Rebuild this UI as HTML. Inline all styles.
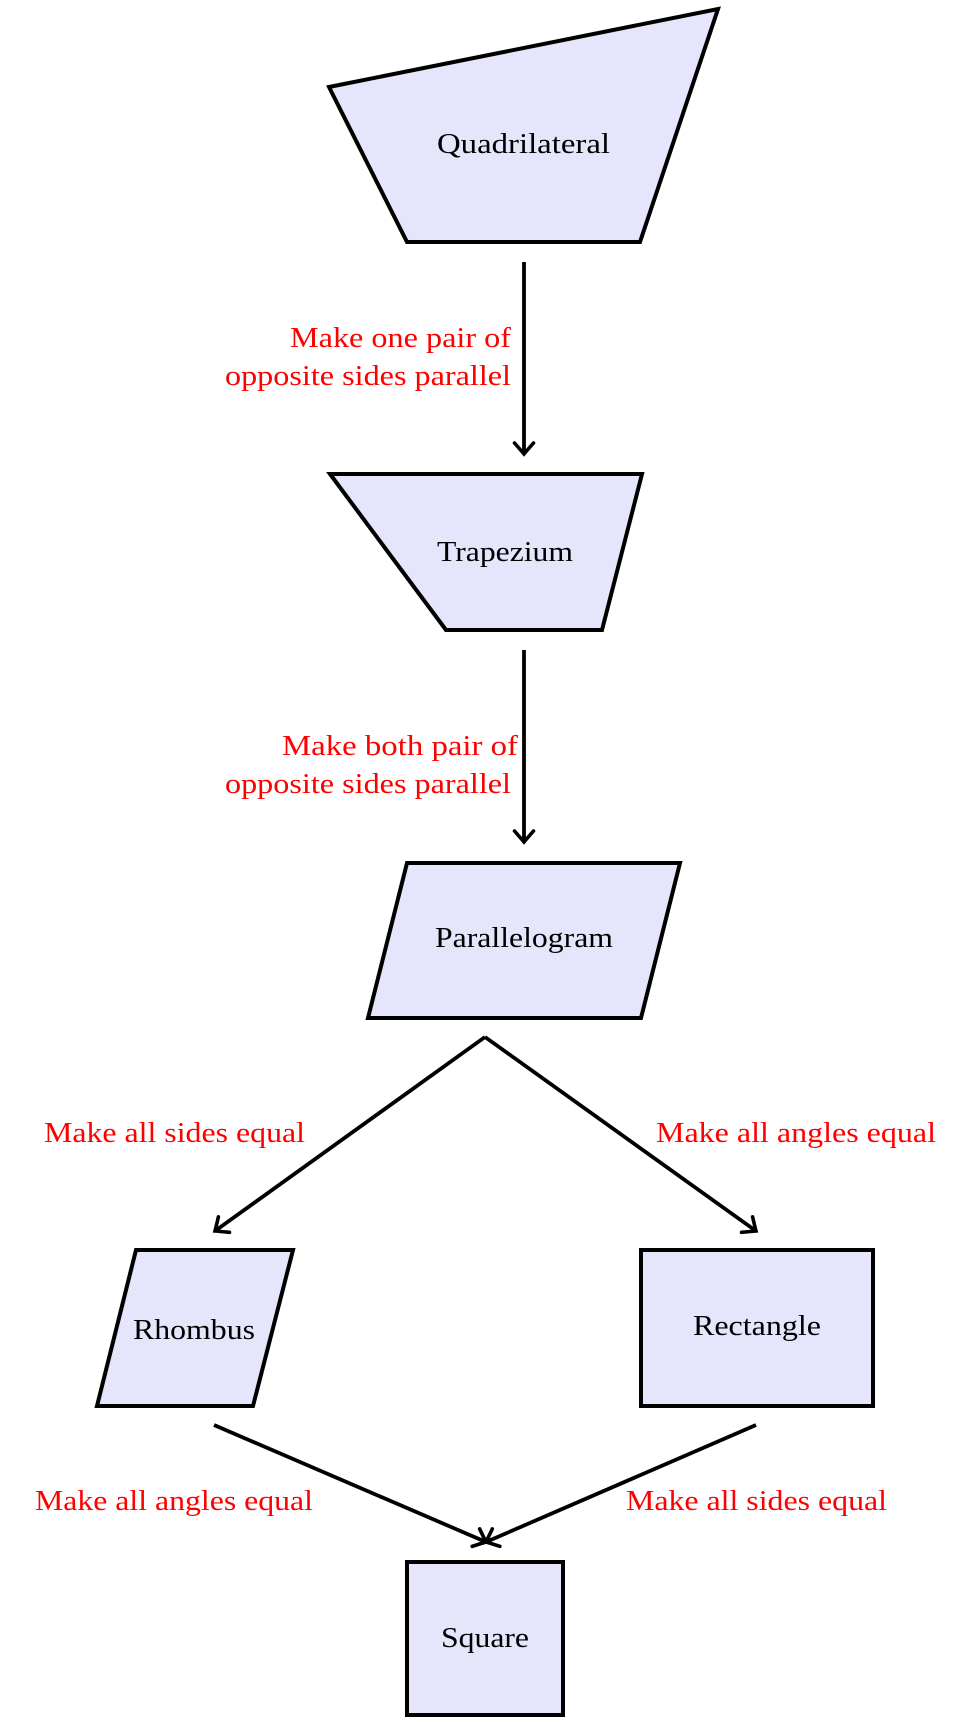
<!DOCTYPE html>
<html>
<head>
<meta charset="utf-8">
<style>
  html, body { margin: 0; padding: 0; background: #ffffff; }
  body { width: 954px; height: 1722px; overflow: hidden; }
  svg { display: block; }
  .shape { fill: #e5e5fb; stroke: #000; stroke-width: 4; stroke-linejoin: miter; }
  .arr { stroke: #000; stroke-width: 3.8; fill: none; }
  .lbl { font-family: "Liberation Serif", serif; font-size: 29px; fill: #000; }
  .red { font-family: "Liberation Serif", serif; font-size: 29px; fill: #ff0000; }
</style>
</head>
<body>
<svg width="954" height="1722" viewBox="0 0 954 1722" xmlns="http://www.w3.org/2000/svg">
  <defs>
    <marker id="ah" markerUnits="userSpaceOnUse" orient="auto" refX="0" refY="0" markerWidth="30" markerHeight="30" overflow="visible">
      <path d="M -11,-9.5 Q -3,-2.5 0,0 Q -3,2.5 -11,9.5" fill="none" stroke="#000" stroke-width="3.6" stroke-linecap="round"/>
    </marker>
  </defs>

  <!-- Quadrilateral -->
  <polygon class="shape" points="329,87 718,9 640,242 407,242"/>
  <text class="lbl" x="437" y="153" textLength="173" lengthAdjust="spacingAndGlyphs">Quadrilateral</text>

  <!-- Arrow 1 -->
  <line class="arr" x1="524" y1="262" x2="524" y2="454" marker-end="url(#ah)"/>
  <text class="red" x="290" y="347" textLength="221" lengthAdjust="spacingAndGlyphs">Make one pair of</text>
  <text class="red" x="225" y="385" textLength="286" lengthAdjust="spacingAndGlyphs">opposite sides parallel</text>

  <!-- Trapezium -->
  <polygon class="shape" points="330,474 642,474 602,630 446,630"/>
  <text class="lbl" x="437" y="561" textLength="136" lengthAdjust="spacingAndGlyphs">Trapezium</text>

  <!-- Arrow 2 -->
  <line class="arr" x1="524" y1="650" x2="524" y2="842" marker-end="url(#ah)"/>
  <text class="red" x="282" y="755" textLength="236" lengthAdjust="spacingAndGlyphs">Make both pair of</text>
  <text class="red" x="225" y="793" textLength="286" lengthAdjust="spacingAndGlyphs">opposite sides parallel</text>

  <!-- Parallelogram -->
  <polygon class="shape" points="407,863 680,863 641,1018 368,1018"/>
  <text class="lbl" x="435" y="947" textLength="178" lengthAdjust="spacingAndGlyphs">Parallelogram</text>

  <!-- Arrows to Rhombus / Rectangle -->
  <line class="arr" x1="485" y1="1037" x2="215" y2="1231" marker-end="url(#ah)"/>
  <line class="arr" x1="485" y1="1037" x2="756" y2="1231" marker-end="url(#ah)"/>
  <text class="red" x="44" y="1142" textLength="261" lengthAdjust="spacingAndGlyphs">Make all sides equal</text>
  <text class="red" x="656" y="1142" textLength="280" lengthAdjust="spacingAndGlyphs">Make all angles equal</text>

  <!-- Rhombus -->
  <polygon class="shape" points="136,1250 293,1250 253,1406 97,1406"/>
  <text class="lbl" x="133" y="1339" textLength="122" lengthAdjust="spacingAndGlyphs">Rhombus</text>

  <!-- Rectangle -->
  <rect class="shape" x="641" y="1250" width="232" height="156"/>
  <text class="lbl" x="693" y="1335" textLength="128" lengthAdjust="spacingAndGlyphs">Rectangle</text>

  <!-- Arrows to Square -->
  <line class="arr" x1="214" y1="1425" x2="486" y2="1542" marker-end="url(#ah)"/>
  <line class="arr" x1="756" y1="1425" x2="486" y2="1542" marker-end="url(#ah)"/>
  <text class="red" x="35" y="1510" textLength="278" lengthAdjust="spacingAndGlyphs">Make all angles equal</text>
  <text class="red" x="626" y="1510" textLength="261" lengthAdjust="spacingAndGlyphs">Make all sides equal</text>

  <!-- Square -->
  <rect class="shape" x="407" y="1562" width="156" height="153"/>
  <text class="lbl" x="441" y="1647" textLength="88" lengthAdjust="spacingAndGlyphs">Square</text>
</svg>
</body>
</html>
